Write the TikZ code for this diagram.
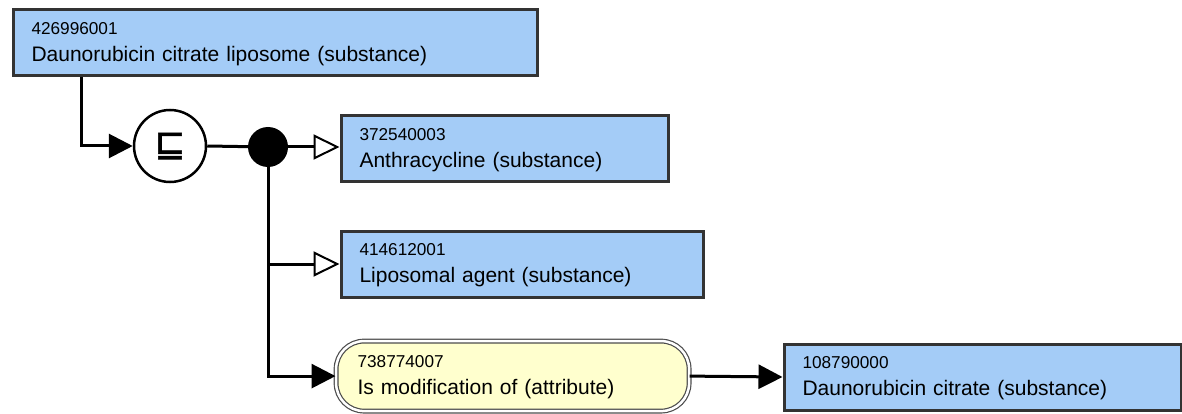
\documentclass[tikz,border=0pt]{standalone}
\usepackage{fontspec}
\setmainfont{Liberation Sans}
\newfontfamily\symbolfont[FakeBold=1.6]{DejaVu Sans}
\usetikzlibrary{arrows.meta}
\definecolor{conceptblue}{RGB}{164,204,247}
\definecolor{attryellow}{RGB}{255,255,206}
\definecolor{borderdark}{RGB}{51,51,51}
\newcommand\conceptid[1]{{\fontsize{17.2}{26.5}\selectfont\rule{0pt}{14pt}#1}}
\begin{document}
\begin{tikzpicture}[x=1pt,y=-1pt,
  concept/.style={rectangle, draw=borderdark, line width=3pt, fill=conceptblue,
    anchor=north west, minimum height=66pt, inner xsep=18.5pt, inner ysep=0pt,
    align=left, font=\fontsize{21}{26.5}\selectfont},
  attribute/.style={rectangle, draw=black!70, line width=1.2pt, double=white,
    double distance=2.5pt, fill=attryellow, rounded corners=28pt,
    anchor=north west, minimum height=70pt, inner xsep=21.5pt, inner ysep=0pt,
    align=left, font=\fontsize{21}{26.5}\selectfont},
  conn/.style={draw=black, line width=3pt},
  filledtip/.style={-{Triangle[length=24pt,width=24pt]}},
  opentip/.style={-{Triangle[open,fill=white,line width=2pt,length=26pt,width=25pt]}}
]
\useasboundingbox (0,0) rectangle (1182,414);

\node[concept, text width=487pt] (top) at (11.5,8.5)
  {\conceptid{426996001}\\Daunorubicin citrate liposome (substance)};
\node[concept, text width=290pt] (anthra) at (339.5,114.5)
  {\conceptid{372540003}\\Anthracycline (substance)};
\node[concept, text width=325pt] (lipo) at (339.5,229.5)
  {\conceptid{414612001}\\Liposomal agent (substance)};
\node[attribute, text width=310pt] (attr) at (335.5,340.5)
  {\conceptid{738774007}\\Is modification of (attribute)};
\node[concept, text width=360pt] (target) at (782.5,342.5)
  {\conceptid{108790000}\\Daunorubicin citrate (substance)};

\node[circle, draw=black, line width=2.5pt, fill=white, minimum size=72pt, inner sep=0pt]
  (subsume) at (170,146) {\symbolfont\fontsize{37}{37}\selectfont ⊑};
\node[circle, fill=black, minimum size=40pt, inner sep=0pt] (conj) at (268,147) {};

\draw[conn, filledtip] ([xshift=70pt]top.south west) |- (subsume.west);
\draw[conn] (subsume.east) -- (conj);
\draw[conn, opentip] (conj) -- (conj -| anthra.west);
\draw[conn, opentip] (conj) |- (lipo.west);
\draw[conn, filledtip] (conj) |- (attr.west);
\draw[conn, filledtip] (attr.east) -- (target.west);
\end{tikzpicture}
\end{document}
